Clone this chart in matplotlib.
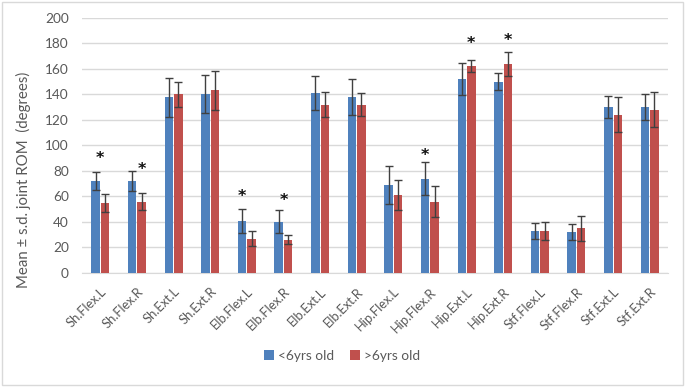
import matplotlib
matplotlib.use("Agg")
import matplotlib.pyplot as plt
import numpy as np
from matplotlib.patches import Rectangle

categories = ["Sh.Flex.L", "Sh.Flex.R", "Sh.Ext.L", "Sh.Ext.R", "Elb.Flex.L", "Elb.Flex.R",
              "Elb.Ext.L", "Elb.Ext.R", "Hip.Flex.L", "Hip.Flex.R", "Hip.Ext.L", "Hip.Ext.R",
              "Stf.Flex.L", "Stf.Flex.R", "Stf.Ext.L", "Stf.Ext.R"]
young_mean = [72, 72, 137.5, 140, 41, 40, 141, 138, 69, 74, 152, 150, 33, 32, 130, 130]
young_sd = [7, 8, 15, 15, 9.5, 9, 13.5, 14, 15, 13, 12.5, 6.5, 6, 6, 8.5, 10]
old_mean = [55, 56, 140, 143, 27, 26, 132, 132, 61, 56, 162, 164, 33, 35, 124, 128]
old_sd = [7, 6.5, 10, 15, 6, 3.5, 9.5, 9, 12, 12, 4.5, 9.5, 7, 10, 13.5, 14]
series_names = ["<6yrs old", ">6yrs old"]
# significance stars: (category index, star height, horizontal side: -1 blue, 0 middle, 1 red)
star_cat = [0, 1, 4, 5, 9, 10, 11]
star_y = [90, 81, 60, 57, 92, 180, 182.5]
star_side = [0, 1, -1, 0, -1, 1, 1]

plt.rcParams['font.family'] = ['Lato', 'DejaVu Sans']
blue = "#4F81BD"
red = "#C0504D"
txt = "#595959"

fig = plt.figure(figsize=(6.85, 3.87), dpi=100)
ax = fig.add_axes([82/685, 1 - 273/387, (668-82)/685, (273-17.7)/387])

x = np.arange(len(categories))
w = 0.23
gap = 0.03
ek = dict(ecolor="#404040", elinewidth=1.0, capsize=3, capthick=1.0)
ax.bar(x - w/2 - gap/2, young_mean, w, yerr=young_sd, color=blue, label=series_names[0],
       error_kw=ek, zorder=3)
ax.bar(x + w/2 + gap/2, old_mean, w, yerr=old_sd, color=red, label=series_names[1],
       error_kw=ek, zorder=3)

for c, yv, s in zip(star_cat, star_y, star_side):
    ax.text(c + s * (w/2 + gap/2), yv, "*", ha="center", va="center", fontsize=11.5,
            fontweight="bold", color="#111111", family="DejaVu Sans")

ax.set_ylim(0, 200)
ax.set_xlim(-0.5, len(categories) - 0.5)
ax.set_yticks(np.arange(0, 201, 20))
ax.yaxis.grid(True, color="#D9D9D9", linewidth=1.0, zorder=0)
ax.set_axisbelow(True)
for sp in ["top", "right", "left"]:
    ax.spines[sp].set_visible(False)
ax.spines["bottom"].set_color("#D9D9D9")
ax.tick_params(axis="both", length=0, colors=txt, labelsize=9.8)
ax.tick_params(axis="y", pad=9.5)
ax.set_xticks(x)
ax.set_xticklabels(categories, rotation=45, ha="right", rotation_mode="anchor", fontsize=9.3)
ax.tick_params(axis="x", pad=9)
ax.set_ylabel("Mean \u00b1 s.d. joint ROM  (degrees)", color=txt, fontsize=10.8)
ax.yaxis.set_label_coords((31 - 82) / 586, (273 - 180) / 255)

leg = fig.legend(loc="center", bbox_to_anchor=(342/685, 1 - 356/387), ncol=2, frameon=False,
                 fontsize=9.8, handlelength=0.7, handleheight=0.7, handletextpad=0.3,
                 columnspacing=1.2)
for t in leg.get_texts():
    t.set_color(txt)

fig.patches.append(Rectangle((2/685, 2/387), 681/685, 383/387, transform=fig.transFigure,
                             fill=False, edgecolor="#D9D9D9", linewidth=1.0))

fig.savefig("out.png", dpi=100, facecolor="white")
